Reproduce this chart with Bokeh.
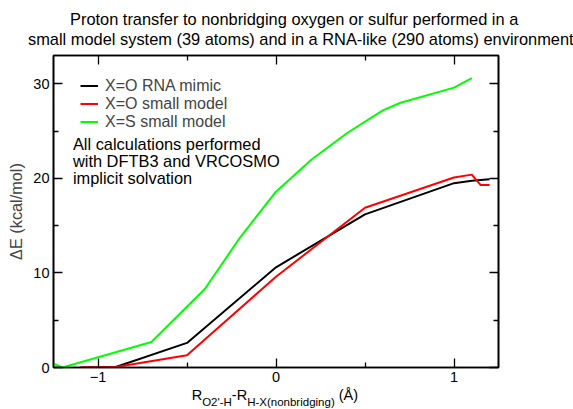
from bokeh.plotting import figure
from bokeh.models import LinearAxis, Label, FixedTicker, Range1d, Div
from bokeh.layouts import column
from bokeh.embed import file_html
from bokeh.resources import INLINE

# ---- data ----
x_rna = [-1.1, -0.9, -0.5, 0.0, 0.5, 1.0, 1.1, 1.2]
e_rna = [0.0, 0.05, 2.6, 10.6, 16.2, 19.5, 19.75, 19.9]

x_o_small = [-1.1, -0.9, -0.5, 0.0, 0.5, 1.0, 1.1, 1.15, 1.2]
e_o_small = [0.0, 0.05, 1.3, 9.6, 16.9, 20.1, 20.4, 19.3, 19.3]

x_s_small = [-1.25, -1.2, -0.7, -0.4, -0.2, 0.0, 0.2, 0.4, 0.6, 0.7, 1.0, 1.1]
e_s_small = [0.4, 0.0, 2.7, 8.3, 13.8, 18.6, 22.0, 24.8, 27.2, 28.0, 29.6, 30.6]

series_names = ["X=O RNA mimic", "X=O small model", "X=S small model"]
series_colors = ["#000000", "#ff0000", "#00ff00"]

x_major = [-1, 0, 1]
x_minor = [-0.5, 0.5]
y_major = [0, 10, 20, 30]
y_minor = [5, 15, 25]

title_lines = ["Proton transfer to nonbridging oxygen or sulfur performed in a",
               "small model system (39 atoms) and in a RNA-like (290 atoms) environment"]
note_lines = ["All calculations performed", "with DFTB3 and VRCOSMO", "implicit solvation"]
y_label = "\u0394E (kcal/mol)"
xlabel_parts = [("R", False), ("O2'-H", True), ("-R", False), ("H-X(nonbridging)", True), (" (\u00c5)", False)]

FONT = "Liberation Sans"
W = 573
TITLE_H = 50
XLABEL_H = 21
PLOT_H = 409 - TITLE_H - XLABEL_H

# ---- title (HTML text above the plot) ----
title_html = (
    "<div style=\"font-family:'Liberation Sans';font-size:16.4px;line-height:20px;"
    "white-space:nowrap;padding-top:9.3px;color:#000\">"
    "<div style=\"margin-left:70px\">%s</div>"
    "<div style=\"margin-left:28px\">%s</div></div>" % (title_lines[0], title_lines[1])
)
title_div = Div(text=title_html, width=W, height=TITLE_H, margin=0,
                styles={"overflow": "visible"})

# ---- x-axis label with subscripts (HTML text below the plot) ----
pieces = []
for txt, is_sub in xlabel_parts:
    if is_sub:
        pieces.append("<span style=\"font-size:11.5px;vertical-align:-6px\">%s</span>" % txt)
    else:
        pieces.append("<span>%s</span>" % txt)
xlabel_html = (
    "<div style=\"font-family:'Liberation Sans';font-size:14.5px;line-height:10px;"
    "white-space:nowrap;padding-left:191.7px;color:#000\">%s</div>" % "".join(pieces)
)
xlabel_div = Div(text=xlabel_html, width=W, height=XLABEL_H, margin=0,
                 styles={"overflow": "visible"})

# ---- plot ----
p = figure(width=W, height=PLOT_H, x_range=Range1d(-1.25, 1.25), y_range=Range1d(0, 33),
           output_backend="svg", toolbar_location=None, title=None, margin=0,
           min_border_left=53, min_border_right=75, min_border_top=5, min_border_bottom=21)
p.outline_line_color = "black"
p.outline_line_width = 1.6
p.xgrid.visible = False
p.ygrid.visible = False
p.background_fill_color = "white"
p.border_fill_color = "white"

for xs, ys, name, col in zip([x_rna, x_o_small, x_s_small], [e_rna, e_o_small, e_s_small],
                             series_names, series_colors):
    p.line(xs, ys, line_color=col, line_width=2, legend_label=name)

def style_axis(ax, show_labels):
    ax.axis_line_width = 1.6
    ax.axis_line_color = "black"
    ax.major_tick_in = 9
    ax.major_tick_out = 0
    ax.minor_tick_in = 5
    ax.minor_tick_out = 0
    ax.major_tick_line_width = 1.3
    ax.minor_tick_line_width = 1.3
    ax.major_tick_line_color = "black"
    ax.minor_tick_line_color = "black"
    ax.major_label_text_font = FONT
    ax.major_label_text_color = "black"
    if show_labels:
        ax.major_label_text_font_size = "14.5px"
        ax.major_label_standoff = 4
    else:
        ax.major_label_text_font_size = "0px"
        ax.major_label_text_alpha = 0
        ax.major_label_standoff = 0

xaxis = p.xaxis[0]
yaxis = p.yaxis[0]
top = LinearAxis()
right = LinearAxis()
p.add_layout(top, "above")
p.add_layout(right, "right")
for ax, show in [(xaxis, True), (top, False)]:
    style_axis(ax, show)
    ax.ticker = FixedTicker(ticks=x_major, minor_ticks=x_minor)
for ax, show in [(yaxis, True), (right, False)]:
    style_axis(ax, show)
    ax.ticker = FixedTicker(ticks=y_major, minor_ticks=y_minor)

yaxis.axis_label = y_label
yaxis.axis_label_text_font = FONT
yaxis.axis_label_text_font_size = "16.3px"
yaxis.axis_label_text_font_style = "normal"
yaxis.axis_label_standoff = 5

# pixel->data helpers for in-frame annotation placement (page pixels)
X0, SX = 275.0, 177.3
Y0, SY = 366.7, 9.43
def dx(px):
    return (px - X0) / SX
def dy(py):
    return (Y0 - py) / SY

for txt, by in zip(note_lines, [144.0, 160.7, 177.4]):
    p.add_layout(Label(x=dx(72.7), y=dy(by), text=txt, text_align="left", text_baseline="alphabetic",
                       text_font=FONT, text_font_size="16.4px", text_color="black"))

leg = p.legend[0]
leg.location = (27, 236.3)
leg.border_line_color = None
leg.background_fill_alpha = 0
leg.padding = 0
leg.margin = 0
leg.spacing = 0
leg.glyph_width = 18
leg.glyph_height = 17
leg.label_height = 17
leg.label_standoff = 7
leg.label_text_font = FONT
leg.label_text_font_size = "16px"
leg.label_text_baseline = "middle"

layout = column(title_div, p, xlabel_div, spacing=0, margin=0)
open("out.html", "w").write(file_html(layout, INLINE))
